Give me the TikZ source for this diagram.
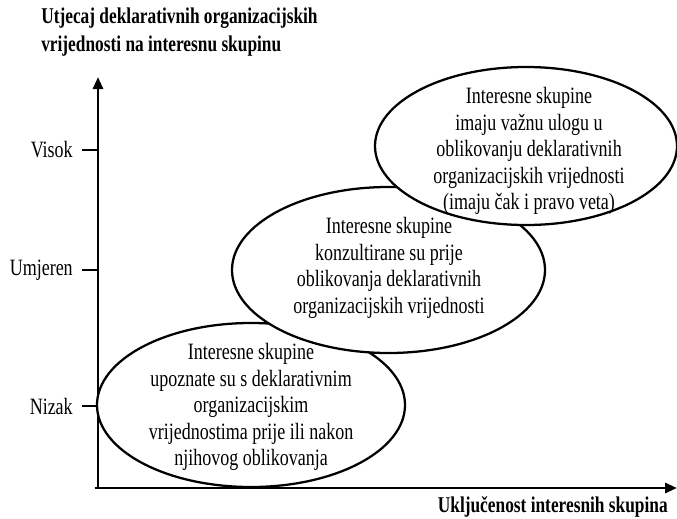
\documentclass[tikz,border=0pt]{standalone}
\usepackage{fontspec}
\setmainfont{Liberation Serif}
\usetikzlibrary{arrows.meta, shapes.geometric}

\tikzset{
  axis/.style={line width=2.2pt, -{Triangle[length=9pt,width=7.5pt]}},
  tickline/.style={line width=1.6pt},
  bubble/.style={ellipse, draw, line width=1.7pt, fill=white, inner sep=0pt},
  bubbletext/.style={align=center, inner sep=0pt,
    font=\fontsize{13.5}{15.3}\selectfont, yscale=1.3, transform shape},
  level/.style={inner sep=0pt, font=\fontsize{13.5}{15.3}\selectfont,
    yscale=1.3, transform shape},
  axistitle/.style={align=left, inner sep=0pt,
    font=\bfseries\fontsize{13}{16.2}\selectfont, yscale=1.3, transform shape}
}

\begin{document}
\begin{tikzpicture}[x=0.75pt, y=-0.75pt]
  \useasboundingbox (0,0) rectangle (677,518);

  % Axes
  \coordinate (o) at (98,488);
  \coordinate (ytip) at (98,77);
  \coordinate (xtip) at (677,488);
  \draw[axis] ([yshift=-1pt]o) -- (ytip);
  \draw[axis] ([xshift=-2.5pt]o) -- (xtip);

  % Axis titles
  \node[axistitle, anchor=west] (ytitle) at (41,32)
    {Utjecaj deklarativnih organizacijskih\\vrijednosti na interesnu skupinu};
  \node[axistitle, anchor=east] (xtitle) at (668,507)
    {Uključenost interesnih skupina};

  % Levels
  \node[level, anchor=east] (visok) at (73,150) {Visok};
  \node[level, anchor=east] (umjeren) at (73,270) {Umjeren};
  \node[level, anchor=east] (nizak) at (73,406) {Nizak};
  \draw[tickline] ([xshift=6.75pt]visok.east) -- (visok.east -| o);
  \draw[tickline] ([xshift=6.75pt]umjeren.east) -- (umjeren.east -| o);
  \draw[tickline] ([xshift=6.75pt]nizak.east) -- (nizak.east -| o);

  % Bubbles, lower ones first
  \node[bubble, minimum width=231pt, minimum height=123pt] (low) at (251,405) {};
  \node[bubbletext] (lowtext) at (251,407)
    {Interesne skupine\\upoznate su s deklarativnim\\organizacijskim\\vrijednostima prije ili nakon\\njihovog oblikovanja};

  \node[bubble, minimum width=234.75pt, minimum height=124.5pt] (mid) at (388.5,270) {};
  \node[bubbletext] (midtext) at (389,268)
    {Interesne skupine\\konzultirane su prije\\oblikovanja deklarativnih\\organizacijskih vrijednosti};

  \node[bubble, minimum width=226.5pt, minimum height=118.5pt] (high) at (526,146) {};
  \node[bubbletext] (hightext) at (529,151)
    {Interesne skupine\\imaju važnu ulogu u\\oblikovanju deklarativnih\\organizacijskih vrijednosti\\(imaju čak i pravo veta)};
\end{tikzpicture}
\end{document}
